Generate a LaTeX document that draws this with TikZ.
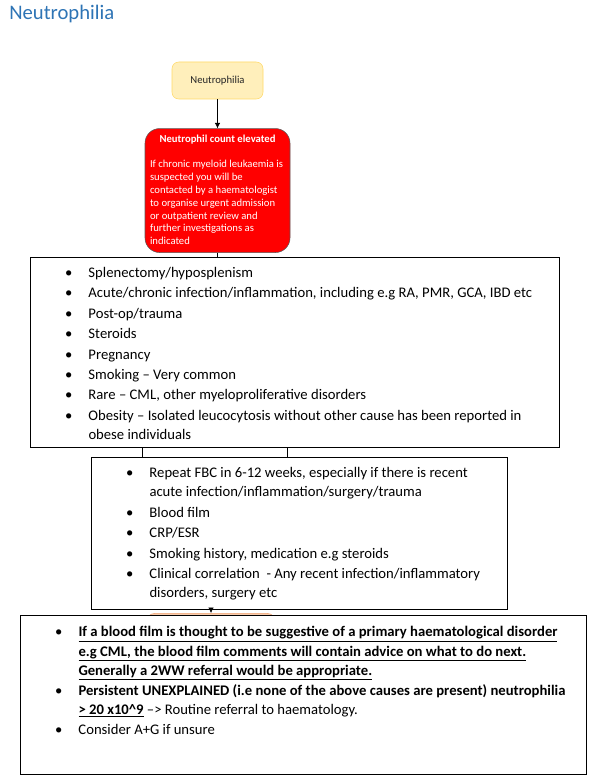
\documentclass[tikz,border=0pt]{standalone}
\usepackage{fontspec}
\setmainfont{Carlito}
\usetikzlibrary{arrows.meta, positioning}

\definecolor{titleblue}{RGB}{46,116,181}
\definecolor{startfill}{RGB}{255,239,187}
\definecolor{startdraw}{RGB}{255,217,102}
\definecolor{nextfill}{RGB}{248,203,173}
\definecolor{nextdraw}{RGB}{237,160,110}

% one bullet line with hanging indent
\newcommand{\bitem}[1]{\par\hangindent=43.5pt\hangafter=1\noindent\hbox to 43.5pt{\strut\hspace{26pt}\textbullet\hss}#1}
% bold underlined line
\newcommand{\bul}[1]{\underline{\textbf{#1}}}

\begin{document}
\begin{tikzpicture}[
        x=0.75pt, y=-0.75pt,
        % Define styles for the different blocks
        startbox/.style={rectangle, draw=startdraw, fill=startfill, rounded corners=5pt, minimum width=68.25pt, minimum height=27.75pt, font=\fontsize{8}{9.6}\selectfont, text=black!85},
        redbox/.style={rectangle, draw=black!65, fill=red, rounded corners=11pt, inner xsep=3.75pt, inner ysep=0pt, text=white},
        listbox/.style={rectangle, draw=black, fill=white, line width=0.75pt, inner sep=0pt, anchor=north west},
        nextbox/.style={rectangle, draw=nextdraw, fill=nextfill, rounded corners=8pt, minimum width=99pt, minimum height=30pt},
        line/.style={draw, -{Latex[length=4pt, width=4pt]}, thin, color=black}
    ]
    \useasboundingbox (0,0) rectangle (597,784);

    % --- Nodes ---
    % Heading
    \node [anchor=base west, inner sep=0pt, font=\fontsize{15.5}{18}\selectfont, text=titleblue] (title) at (9,19.5) {Neutrophilia};

    % Start
    \node [startbox] (start) at (217.5,80.5) {Neutrophilia};

    % Count elevated
    \node [redbox, below=21.75pt of start] (elevated) {\parbox[t][93pt][t]{101.25pt}{\fontsize{8}{9.6}\selectfont
        \vspace*{3.6pt}\centering\strut\textbf{Neutrophil count elevated}\par
        \vspace{9.6pt}\raggedright\strut If chronic myeloid leukaemia is\newline
        suspected you will be\newline
        contacted by a haematologist\newline
        to organise urgent admission\newline
        or outpatient review and\newline
        further investigations as\newline
        indicated}};

    % Causes
    \node [listbox] (causes) at (30,257) {\parbox[t][142.5pt][t]{396.75pt}{\fontsize{11}{14.5}\selectfont\raggedright\parskip=0.8pt
        \vspace*{4.1pt}
        \bitem{Splenectomy/hyposplenism}
        \bitem{Acute/chronic infection/inflammation, including e.g RA, PMR, GCA, IBD etc}
        \bitem{Post-op/trauma}
        \bitem{Steroids}
        \bitem{Pregnancy}
        \bitem{Smoking -- Very common}
        \bitem{Rare -- CML, other myeloproliferative disorders}
        \bitem{Obesity -- Isolated leucocytosis without other cause has been reported in\newline obese individuals}}};

    % Tests
    \node [listbox] (tests) at (91,457) {\parbox[t][114pt][t]{312pt}{\fontsize{11}{14.5}\selectfont\raggedright\parskip=0.8pt
        \vspace*{4.1pt}
        \bitem{Repeat FBC in 6-12 weeks, especially if there is recent\newline acute infection/inflammation/surgery/trauma}
        \bitem{Blood film}
        \bitem{CRP/ESR}
        \bitem{Smoking history, medication e.g steroids}
        \bitem{Clinical correlation\ \ - Any recent infection/inflammatory\newline disorders, surgery etc}}};

    % Next step (mostly covered)
    \node [nextbox, anchor=north] (next) at (211,613) {};

    % Advice
    \node [listbox] (advice) at (20,615) {\parbox[t][119.25pt][t]{424.5pt}{\fontsize{11}{14.5}\selectfont\raggedright\parskip=0.3pt
        \vspace*{5.6pt}
        \bitem{\bul{If a blood film is thought to be suggestive of a primary haematological disorder}\newline
            \bul{e.g CML, the blood film comments will contain advice on what to do next.}\newline
            \bul{Generally a 2WW referral would be appropriate.}}
        \bitem{\textbf{Persistent UNEXPLAINED (i.e none of the above causes are present) neutrophilia}\newline
            \bul{> 20 x10\textasciicircum9} --> Routine referral to haematology.}
        \bitem{Consider A+G if unsure}}};

    % --- Edges ---
    \coordinate (leftdrop) at (142,0);
    \coordinate (rightdrop) at (287,0);

    \path [line] (start) -- (elevated);
    \draw (elevated.south) -- (elevated.south |- causes.north);
    \draw (causes.south -| leftdrop) -- (tests.north -| leftdrop);
    \draw (causes.south -| rightdrop) -- (tests.north -| rightdrop);
    \path [line] (tests.south -| next.north) -- (next.north);

\end{tikzpicture}
\end{document}
